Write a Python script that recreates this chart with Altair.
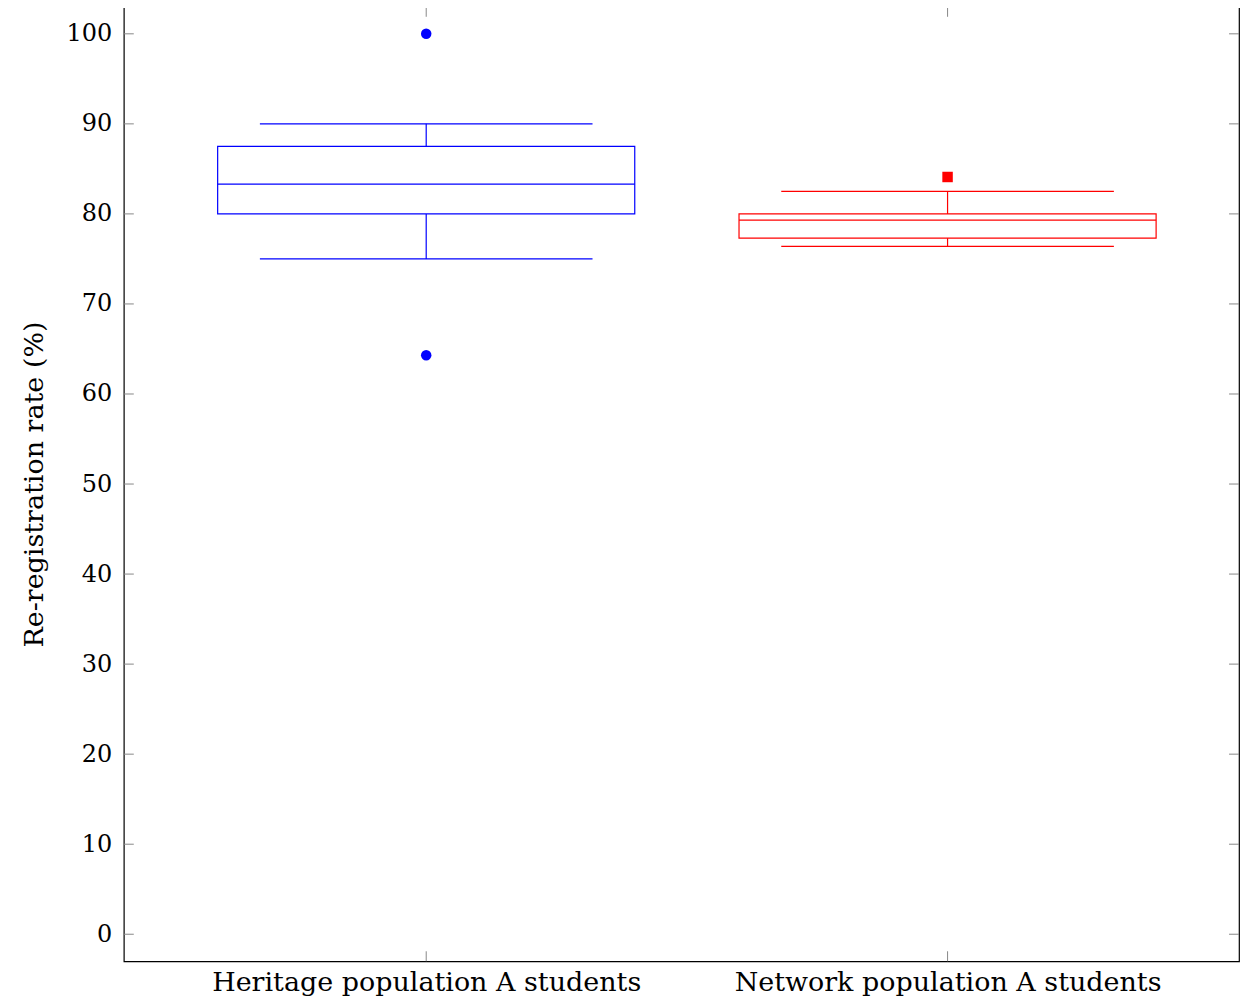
import altair as alt
import pandas as pd

categories = ["Heritage population A students", "Network population A students"]
lower_whisker = [75.0, 76.4]
q1 = [80.0, 77.3]
median = [83.3, 79.3]
q3 = [87.5, 80.0]
upper_whisker = [90.0, 82.5]
outlier_cat = ["Heritage population A students", "Heritage population A students", "Network population A students"]
outlier_val = [100.0, 64.3, 84.1]
colors = ["#0000ff", "#ff0000"]
outlier_colors = ["#0000e6", "#cc0000"]
y_ticks = [0, 10, 20, 30, 40, 50, 60, 70, 80, 90, 100]

W, H = 1117, 956
FONT = "DejaVu Serif"
FS = 27
FS_TICK = 24
BOX_HALF = 0.4
CAP_HALF = 0.319

pos = [i + 1 for i in range(len(categories))]
box = pd.DataFrame({
    "cat": categories, "pos": pos,
    "lw": lower_whisker, "q1": q1, "med": median, "q3": q3, "uw": upper_whisker,
})
box["xlo"] = box["pos"] - BOX_HALF
box["xhi"] = box["pos"] + BOX_HALF
box["clo"] = box["pos"] - CAP_HALF
box["chi"] = box["pos"] + CAP_HALF

out = pd.DataFrame({"cat": outlier_cat, "val": outlier_val})
out["pos"] = out["cat"].map({c: p for c, p in zip(categories, pos)})

label_expr = " : ".join(
    f"datum.value == {p} ? '{c}'" for p, c in zip(pos, categories)
) + " : ''"

xscale = alt.Scale(domain=[0.42, 2.559], nice=False, zero=False)
yscale = alt.Scale(domain=[-3, 103.0], nice=False, zero=False)
cscale = alt.Scale(domain=categories, range=colors)

xaxis = alt.Axis(values=pos, labelExpr=label_expr, title=None, grid=False, tickSize=0,
                 domain=False, labelFont=FONT, labelFontSize=FS, labelColor="black",
                 labelPadding=8, labelLimit=0)
yaxis = alt.Axis(values=y_ticks, title="Re-registration rate (%)", grid=False, tickSize=0,
                 domain=False, labelFont=FONT, labelFontSize=FS_TICK, labelColor="black",
                 labelPadding=12, titleFont=FONT, titleFontSize=FS, titleFontWeight="normal",
                 titleColor="black", titlePadding=18)

base = alt.Chart(box)
col = alt.Color("cat:N", scale=cscale, legend=None)

rect = base.mark_rect(fillOpacity=0, strokeWidth=1.2).encode(
    x=alt.X("xlo:Q", scale=xscale, axis=xaxis), x2="xhi:Q",
    y=alt.Y("q1:Q", scale=yscale, axis=yaxis), y2="q3:Q",
    stroke=col)
med = base.mark_rule(strokeWidth=1.2).encode(
    x=alt.X("xlo:Q", scale=xscale), x2="xhi:Q", y=alt.Y("med:Q", scale=yscale), color=col)
wlo = base.mark_rule(strokeWidth=1.2).encode(
    x=alt.X("pos:Q", scale=xscale), y=alt.Y("lw:Q", scale=yscale), y2="q1:Q", color=col)
whi = base.mark_rule(strokeWidth=1.2).encode(
    x=alt.X("pos:Q", scale=xscale), y=alt.Y("q3:Q", scale=yscale), y2="uw:Q", color=col)
caplo = base.mark_rule(strokeWidth=1.2).encode(
    x=alt.X("clo:Q", scale=xscale), x2="chi:Q", y=alt.Y("lw:Q", scale=yscale), color=col)
caphi = base.mark_rule(strokeWidth=1.2).encode(
    x=alt.X("clo:Q", scale=xscale), x2="chi:Q", y=alt.Y("uw:Q", scale=yscale), color=col)

pts = alt.Chart(out).mark_point(filled=True, opacity=1, size=110).encode(
    x=alt.X("pos:Q", scale=xscale), y=alt.Y("val:Q", scale=yscale),
    color=alt.Color("cat:N", scale=alt.Scale(domain=categories, range=outlier_colors), legend=None),
    shape=alt.Shape("cat:N", scale=alt.Scale(domain=categories, range=["circle", "square"]), legend=None))

yt = pd.DataFrame({"v": y_ticks})
xt = pd.DataFrame({"p": pos})
TICK = 10
tick_color = "#888888"
lt = alt.Chart(yt).mark_rule(color=tick_color).encode(
    y=alt.Y("v:Q", scale=yscale), x=alt.value(0), x2=alt.value(TICK))
rt = alt.Chart(yt).mark_rule(color=tick_color).encode(
    y=alt.Y("v:Q", scale=yscale), x=alt.value(W - TICK), x2=alt.value(W))
tt = alt.Chart(xt).mark_rule(color=tick_color).encode(
    x=alt.X("p:Q", scale=xscale), y=alt.value(0), y2=alt.value(TICK))
bt = alt.Chart(xt).mark_rule(color=tick_color).encode(
    x=alt.X("p:Q", scale=xscale), y=alt.value(H - TICK), y2=alt.value(H))

chart = alt.layer(lt, rt, tt, bt, rect, med, wlo, whi, caplo, caphi, pts).properties(
    width=W, height=H, padding={"left": 12, "top": -3, "right": 5, "bottom": 5},
    background="white"
).configure_view(stroke="black", strokeWidth=1.2)

chart.save("out.html", embed_options={"renderer": "svg", "actions": False})
